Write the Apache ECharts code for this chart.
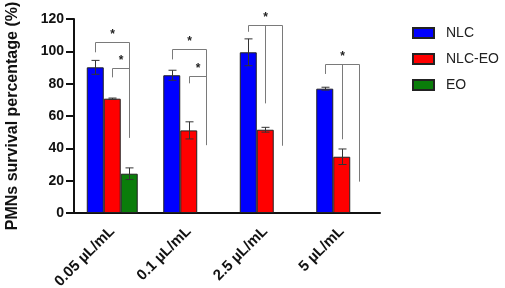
<!DOCTYPE html>
<html>
<head>
<meta charset="utf-8">
<script src="https://cdn.jsdelivr.net/npm/echarts@6/dist/echarts.min.js"></script>
<style>html,body{margin:0;padding:0;background:#fff}#c{width:505px;height:288px}</style>
</head>
<body>
<div id="c"></div>
<script>
const categories = ['0.05 µL/mL', '0.1 µL/mL', '2.5 µL/mL', '5 µL/mL'];
const seriesNames = ['NLC', 'NLC-EO', 'EO'];
const nlc = [90.1, 85.2, 99.4, 76.9];
const nlcEo = [70.7, 51.1, 51.5, 34.8];
const eo = [24.3, null, null, null];
const nlcErr = [4.3, 3.1, 8.3, 0.9];
const nlcEoErr = [0.4, 5.3, 1.5, 4.8];
const eoErr = [3.6, null, null, null];
const yTicks = [0, 20, 40, 60, 80, 100, 120];
// brackets: [category, fromBar, toBar, topValue, fromLegBottom, toLegBottom, midLegBottom]
const brackets = [
  [0, 0, 2, 105.7, 99.4, 46.6, null],
  [0, 1, 2, 89.5, 83.9, 46.6, null],
  [1, 0, 2, 101.2, 95.0, 42.0, null],
  [1, 1, 2, 84.9, 80.2, 42.0, null],
  [2, 0, 2, 116.3, 112.1, 41.6, 67.8],
  [3, 0, 2, 92.1, 86.0, 19.4, 45.6]
];

const BAR_FRAC = 0.222;
const colors = ['#0000ff', '#ff0000', '#0a7d0a'];
const FONT = 'Liberation Sans, Arial, sans-serif';
const values = [nlc, nlcEo, eo];
const errs = [nlcErr, nlcEoErr, eoErr];

const errData = [];
values.forEach((arr, b) => arr.forEach((v, i) => {
  if (v != null && errs[b][i] != null) errData.push([i, b, v, errs[b][i]]);
}));

function barX(api, cat, bar, val) {
  const p = api.coord([cat, val]);
  const bw = api.size([1, 0])[0] * BAR_FRAC;
  return [p[0] + (bar - 1) * bw, p[1]];
}

const chart = echarts.init(document.getElementById('c'), null, {renderer: 'canvas'});
chart.setOption({
  animation: false,
  textStyle: {fontFamily: FONT},
  grid: {left: 74, right: 125, top: 19, bottom: 75, outerBoundsMode: 'none', containLabel: false},
  legend: {
    orient: 'vertical', left: 412, top: 26, padding: 0,
    itemWidth: 21, itemHeight: 10, itemGap: 12,
    icon: 'rect',
    data: seriesNames,
    textStyle: {fontSize: 14, color: '#222', fontFamily: FONT, padding: [0, 0, 0, 7]}
  },
  xAxis: {
    type: 'category', data: categories,
    axisLine: {lineStyle: {color: '#111', width: 2}},
    axisTick: {alignWithLabel: true, length: 7, lineStyle: {width: 2, color: '#111'}},
    axisLabel: {rotate: 45, margin: 16, fontSize: 15, fontWeight: 'bold', color: '#111', fontFamily: FONT, interval: 0}
  },
  yAxis: {
    type: 'value', min: yTicks[0], max: yTicks[yTicks.length - 1], interval: 20,
    name: 'PMNs survival percentage (%)', nameLocation: 'middle', nameGap: 53,
    nameTextStyle: {fontSize: 16, fontWeight: 'bold', color: '#111', fontFamily: FONT},
    splitLine: {show: false},
    axisLine: {show: true, lineStyle: {color: '#111', width: 2}},
    axisTick: {show: true, length: 8, lineStyle: {width: 2, color: '#111'}},
    axisLabel: {fontSize: 14, fontWeight: 'bold', color: '#111', margin: 10, fontFamily: FONT}
  },
  series: [
    ...seriesNames.map((n, b) => ({
      name: n, type: 'bar', data: values[b],
      barWidth: (BAR_FRAC * 100) + '%', barGap: '0%',
      itemStyle: {color: colors[b], borderColor: '#222', borderWidth: 1}
    })),
    {
      type: 'custom', name: 'err', data: errData, z: 5,
      encode: {x: 0, y: 2},
      renderItem: function (params, api) {
        const cat = api.value(0), bar = api.value(1), v = api.value(2), e = api.value(3);
        const t = barX(api, cat, bar, v + e), bt = barX(api, cat, bar, v - e);
        const x = Math.round(t[0]) + 0.5, cap = 4;
        const st = {stroke: '#333', lineWidth: 1};
        return {type: 'group', children: [
          {type: 'line', shape: {x1: x, y1: t[1], x2: x, y2: bt[1]}, style: st},
          {type: 'line', shape: {x1: x - cap, y1: t[1], x2: x + cap, y2: t[1]}, style: st},
          {type: 'line', shape: {x1: x - cap, y1: bt[1], x2: x + cap, y2: bt[1]}, style: st}
        ]};
      }
    },
    {
      type: 'custom', name: 'sig', data: brackets, z: 6, clip: false,
      encode: {x: 0, y: 3},
      renderItem: function (params, api) {
        const cat = api.value(0), from = api.value(1), to = api.value(2), top = api.value(3);
        const a = barX(api, cat, from, top), b = barX(api, cat, to, top);
        const aB = barX(api, cat, from, api.value(4)), bB = barX(api, cat, to, api.value(5));
        const st = {stroke: '#7a7a7a', lineWidth: 1, fill: null};
        const ax = Math.round(a[0]) + 0.5, bx = Math.round(b[0]) + 0.5, ty = Math.round(a[1]) + 0.5;
        const children = [
          {type: 'polyline', shape: {points: [[ax, aB[1]], [ax, ty], [bx, ty], [bx, bB[1]]]}, style: st}
        ];
        const mid = api.value(6);
        let starX = (ax + bx) / 2;
        if (mid != null && !isNaN(mid)) {
          const m = barX(api, cat, (from + to) / 2, mid);
          const mx = Math.round(m[0]) + 0.5;
          children.push({type: 'line', shape: {x1: mx, y1: ty, x2: mx, y2: m[1]}, style: st});
          starX = mx;
        }
        children.push({type: 'text', style: {text: '*', x: starX, y: ty - 2, align: 'center', verticalAlign: 'bottom',
          fontSize: 12, fontWeight: 'bold', fill: '#222', fontFamily: FONT}});
        return {type: 'group', children};
      }
    }
  ]
});
</script>
</body>
</html>
